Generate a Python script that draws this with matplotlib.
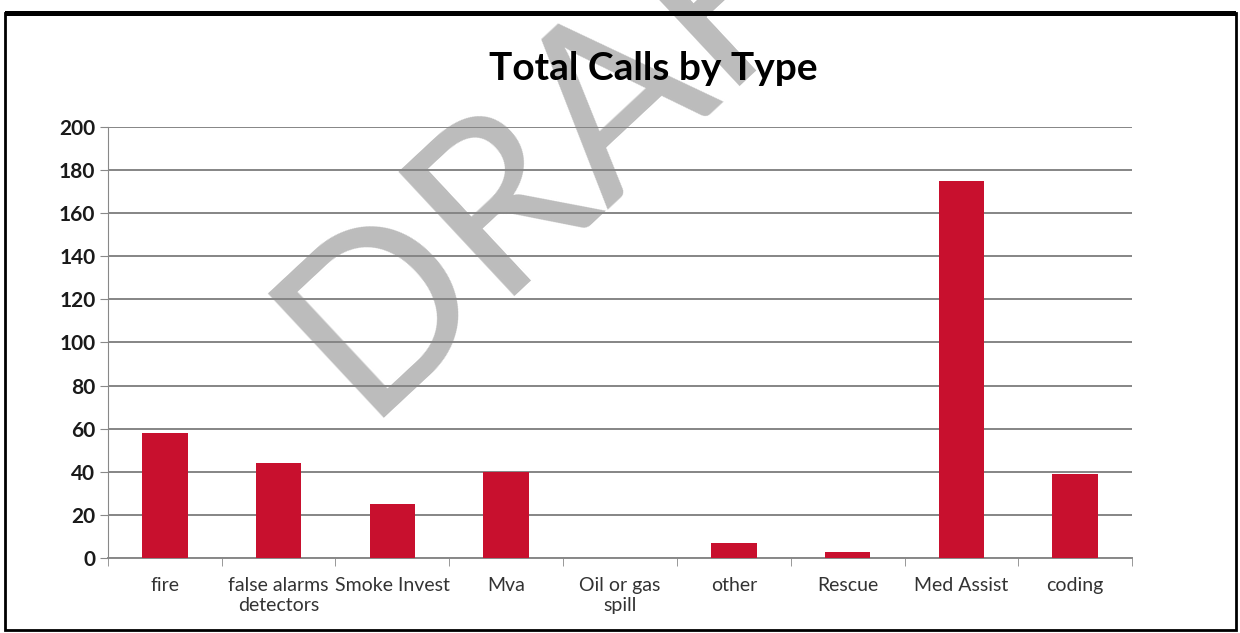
import numpy as np
import matplotlib.pyplot as plt
from matplotlib.patches import Rectangle

categories = ["fire", "false alarms\ndetectors", "Smoke Invest", "Mva", "Oil or gas\nspill",
              "other", "Rescue", "Med Assist", "coding"]
calls = [58, 44, 25, 40, 0, 7, 3, 175, 39]
yticks = [0, 20, 40, 60, 80, 100, 120, 140, 160, 180, 200]

plt.rcParams['font.family'] = ['Lato', 'DejaVu Sans']

fig = plt.figure(figsize=(12.4, 6.33), dpi=100)
ax = fig.add_axes([0.087, 0.1185, 0.826, 0.681])
ax.patch.set_visible(False)

x = np.arange(len(categories))
ax.bar(x, calls, width=0.4, color='#C8102E', zorder=3)

ax.set_xlim(-0.5, len(categories) - 0.5)
ax.set_ylim(0, 200)
ax.set_yticks(yticks)
ax.set_yticklabels([str(v) for v in yticks], fontsize=15, fontweight='bold', color='#1a1a1a')
ax.set_xticks(x)
ax.set_xticklabels(categories, fontsize=14, color='#333333', linespacing=1.15)
ax.tick_params(axis='x', length=0, pad=14)
ax.tick_params(axis='y', length=6, color='#888888', pad=3)
# category boundary ticks on the x axis
ax.set_xticks(np.arange(-0.5, len(categories), 1), minor=True)
ax.tick_params(axis='x', which='minor', length=6, color='#888888')

ax.yaxis.grid(True, color='#858585', linewidth=1.4, zorder=0)
for s in ['top', 'right']:
    ax.spines[s].set_visible(False)
ax.spines['left'].set_color('#888888')
ax.spines['bottom'].set_color('#888888')
ax.spines['bottom'].set_linewidth(1.4)

fig.text(0.527, 0.892, "Total Calls by Type", ha='center', va='center',
         fontsize=28, fontweight='bold', color='black', zorder=3)

# watermark behind the grid
fig.text(0.292, 0.340, "DRAFT", ha='left', va='baseline', fontsize=170, rotation=43,
         rotation_mode='anchor', color='#bcbcbc', zorder=-1)

# scanned frame
fig.patches.append(Rectangle((0.004, 0.005), 0.993, 0.975, transform=fig.transFigure,
                             fill=False, edgecolor='black', linewidth=2))
fig.patches.append(Rectangle((0.004, 0.975), 0.993, 0.008, transform=fig.transFigure,
                             facecolor='black', edgecolor='none'))

fig.savefig('out.png', dpi=100)
